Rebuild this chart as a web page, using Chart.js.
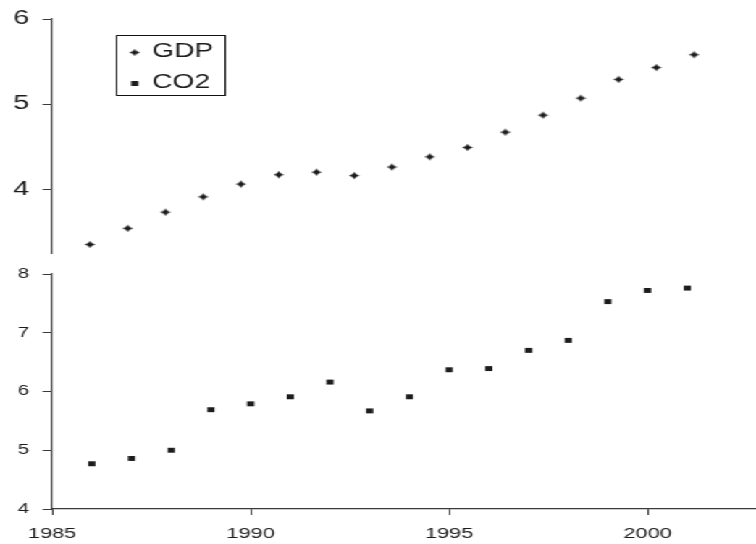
<!DOCTYPE html>
<html>
<head>
<meta charset="utf-8">
<script src="https://cdn.jsdelivr.net/npm/chart.js@4.4.1/dist/chart.umd.min.js"></script>
<style>
  html, body { margin: 0; padding: 0; background: #fff; overflow: hidden; }
  /* the figure is drawn narrow and widened horizontally as a whole */
  #stage { position: absolute; left: 0; top: 0; width: 522px; height: 544px;
           transform: scale(1.44828, 1); transform-origin: 0 0; }
  #stage canvas { position: absolute; left: 0; display: block; }
  #topCanvas { top: 0; }
  #bottomCanvas { top: 262px; }
</style>
</head>
<body>
<div id="stage">
  <canvas id="topCanvas" width="522" height="262"></canvas>
  <canvas id="bottomCanvas" width="522" height="282"></canvas>
</div>
<script>
// ---- data ----
const gdpYears  = [1985, 1986, 1987, 1988, 1989, 1990, 1991, 1992, 1993, 1994, 1995, 1996, 1997, 1998, 1999, 2000, 2001];
const gdpValues = [3.35, 3.54, 3.73, 3.91, 4.06, 4.17, 4.20, 4.16, 4.26, 4.38, 4.49, 4.67, 4.87, 5.07, 5.29, 5.43, 5.58];

const co2Years  = [1986, 1987, 1988, 1989, 1990, 1991, 1992, 1993, 1994, 1995, 1996, 1997, 1998, 1999, 2000, 2001];
const co2Values = [4.77, 4.86, 5.00, 5.69, 5.79, 5.91, 6.16, 5.67, 5.91, 6.37, 6.39, 6.70, 6.87, 7.53, 7.72, 7.76];

const gdpTicks  = [4, 5, 6];
const co2Ticks  = [4, 5, 6, 7, 8];
const yearTicks = [1985, 1990, 1995, 2000];

const seriesNames = ['GDP', 'CO2'];

// ---- styles ----
const INK = '#1c1c1c';
const AXIS = '#3a3a3a';
const FONT = '"Liberation Sans", Arial, Helvetica, sans-serif';

// small four-pointed star used for the GDP points
function makeStar() {
  const c = document.createElement('canvas');
  c.width = 9; c.height = 9;
  const g = c.getContext('2d');
  g.fillStyle = INK;
  g.beginPath();
  g.moveTo(4.5, 0.8);
  g.lineTo(5.7, 3.3);
  g.lineTo(8.2, 4.5);
  g.lineTo(5.7, 5.7);
  g.lineTo(4.5, 8.2);
  g.lineTo(3.3, 5.7);
  g.lineTo(0.8, 4.5);
  g.lineTo(3.3, 3.3);
  g.closePath();
  g.fill();
  g.beginPath();
  g.arc(4.5, 4.5, 2.0, 0, Math.PI * 2);
  g.fill();
  return c;
}
const starMarker = makeStar();

const markerStyles = {
  GDP: { pointStyle: starMarker, radius: 4 },
  CO2: { pointStyle: 'rect', radius: 3.5 }
};

function toPoints(xs, ys) {
  return xs.map((x, i) => ({ x: x, y: ys[i] }));
}

// keep the plot area exactly where the layout padding puts it
function noScalePadding(s) {
  s.paddingTop = 0; s.paddingBottom = 0;
  s.paddingLeft = 0; s.paddingRight = 0;
}

// framed legend listing both series, drawn in the upper panel
const boxLegend = {
  id: 'boxLegend',
  afterDraw(chart) {
    const area = chart.chartArea;
    const ctx = chart.ctx;
    const left = area.left + 44, top = area.top + 16, w = 75, h = 60;
    ctx.save();
    ctx.strokeStyle = '#111';
    ctx.lineWidth = 1;
    ctx.strokeRect(Math.round(left) + 0.5, Math.round(top) + 0.5, w, h);
    ctx.font = '19.5px ' + FONT;
    ctx.fillStyle = INK;
    ctx.textBaseline = 'middle';
    seriesNames.forEach((name, i) => {
      const cy = top + 17 + i * 31;
      const st = markerStyles[name];
      Chart.helpers.drawPoint(ctx, {
        pointStyle: st.pointStyle, radius: st.radius, rotation: 0, borderWidth: 0
      }, left + 13, cy + 0.5);
      ctx.fillStyle = INK;
      ctx.fillText(name, left + 25, cy);
    });
    ctx.restore();
  }
};

function yAxis(min, max, ticks, fontSize, pad) {
  return {
    type: 'linear',
    min: min, max: max,
    afterBuildTicks: (s) => { s.ticks = ticks.map(v => ({ value: v })); },
    afterFit: (s) => { s.width = 36; noScalePadding(s); },
    grid: { drawOnChartArea: false, drawTicks: true, tickLength: 6.5, color: AXIS, lineWidth: 1 },
    border: { display: true, color: AXIS, width: 1.2 },
    ticks: { color: INK, padding: pad, font: { family: FONT, size: fontSize } }
  };
}

Chart.defaults.animation = false;

// upper panel: GDP
new Chart(document.getElementById('topCanvas'), {
  type: 'scatter',
  data: {
    datasets: [{
      label: seriesNames[0],
      data: toPoints(gdpYears, gdpValues),
      pointStyle: markerStyles.GDP.pointStyle,
      pointRadius: markerStyles.GDP.radius,
      backgroundColor: INK, borderColor: INK, borderWidth: 0
    }]
  },
  options: {
    responsive: false,
    devicePixelRatio: 1,
    layout: { autoPadding: false, padding: { top: 19, bottom: 9, left: 0, right: 0 } },
    plugins: { legend: { display: false }, tooltip: { enabled: false } },
    scales: {
      x: { type: 'linear', min: 1984, max: 2002.64, display: false },
      y: yAxis(3.25, 6, gdpTicks, 19.5, 9.5)
    }
  },
  plugins: [boxLegend]
});

// lower panel: CO2
new Chart(document.getElementById('bottomCanvas'), {
  type: 'scatter',
  data: {
    datasets: [{
      label: seriesNames[1],
      data: toPoints(co2Years, co2Values),
      pointStyle: markerStyles.CO2.pointStyle,
      pointRadius: markerStyles.CO2.radius,
      backgroundColor: INK, borderColor: INK, borderWidth: 0
    }]
  },
  options: {
    responsive: false,
    devicePixelRatio: 1,
    layout: { autoPadding: false, padding: { top: 12, bottom: 0, left: 0, right: 0 } },
    plugins: { legend: { display: false }, tooltip: { enabled: false } },
    scales: {
      x: {
        type: 'linear', min: 1985, max: 2002.73,
        afterBuildTicks: (s) => { s.ticks = yearTicks.map(v => ({ value: v })); },
        afterFit: (s) => { s.height = 35; noScalePadding(s); },
        grid: { drawOnChartArea: false, drawTicks: true, tickLength: 6, color: AXIS, lineWidth: 1 },
        border: { display: true, color: AXIS, width: 1.2 },
        ticks: { color: INK, padding: 10, maxRotation: 0, font: { family: FONT, size: 15 },
                 callback: (v) => String(v) }
      },
      y: yAxis(4, 8, co2Ticks, 14, 9.5)
    }
  }
});
</script>
</body>
</html>
